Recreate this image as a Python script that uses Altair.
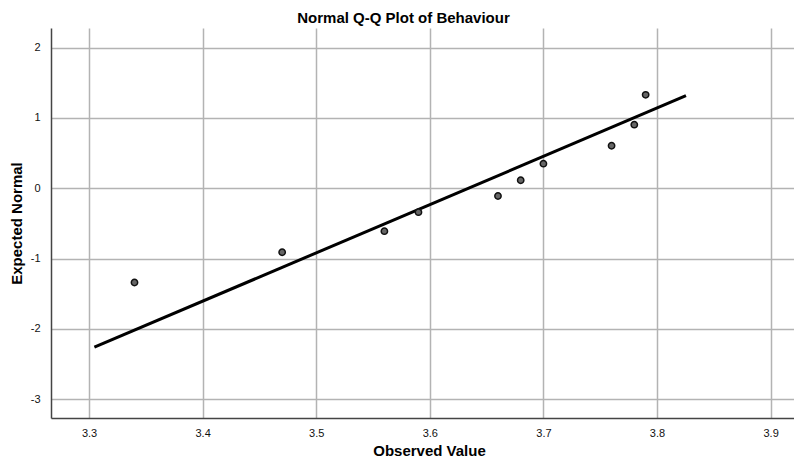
import altair as alt
import pandas as pd

observed = [3.34, 3.47, 3.56, 3.59, 3.66, 3.68, 3.70, 3.76, 3.78, 3.79]
expected = [-1.34, -0.91, -0.61, -0.34, -0.11, 0.115, 0.35, 0.605, 0.905, 1.33]

# Reference line endpoints
line_x = [3.3047, 3.8255]
line_y = [-2.26, 1.317]

x_ticks = [3.3, 3.4, 3.5, 3.6, 3.7, 3.8, 3.9]
y_ticks = [-3, -2, -1, 0, 1, 2]

pts = pd.DataFrame({"obs": observed, "exp": expected})
ln = pd.DataFrame({"obs": line_x, "exp": line_y})

FONT = "Liberation Sans"

x_scale = alt.Scale(domain=[3.2665, 3.9206], nice=False, zero=False)
y_scale = alt.Scale(domain=[-3.267, 2.28], nice=False, zero=False)

x_axis = alt.Axis(
    title="Observed Value", values=x_ticks, format=".1f",
    grid=True, gridColor="#b3b3b3", gridWidth=1.5,
    ticks=False, labelPadding=9, labelFontSize=11, labelColor="#111",
    labelFont=FONT, domainColor="#444", domainWidth=1.5,
    titleFont=FONT, titleFontSize=15, titleFontWeight="bold", titleColor="#000",
    titleX=378, titleY=37, titleBaseline="alphabetic",
)
y_axis = alt.Axis(
    title="Expected Normal", values=y_ticks, format="d",
    labelExpr="replace(datum.label, '\u2212', '-')",
    grid=True, gridColor="#b3b3b3", gridWidth=1.5,
    ticks=False, labelPadding=11, labelFontSize=11, labelColor="#111",
    labelFont=FONT, domainColor="#444", domainWidth=1.5,
    titleFont=FONT, titleFontSize=15, titleFontWeight="bold", titleColor="#000",
    titleX=-30, titleY=195, titleBaseline="alphabetic", titleAngle=-90,
)

line = alt.Chart(ln).mark_line(color="#000", strokeWidth=3).encode(
    x=alt.X("obs:Q", scale=x_scale, axis=x_axis),
    y=alt.Y("exp:Q", scale=y_scale, axis=y_axis),
)

points = alt.Chart(pts).mark_point(
    filled=True, shape="circle", size=40, fill="#666", stroke="#111",
    strokeWidth=1.5, opacity=1,
).encode(
    x=alt.X("obs:Q", scale=x_scale),
    y=alt.Y("exp:Q", scale=y_scale),
)

chart = alt.layer(line, points).properties(
    width=743, height=390,
    autosize=alt.AutoSizeParams(type="none"),
    padding={"left": 43, "top": 20, "right": 0, "bottom": 42},
    title=alt.TitleParams(
        "Normal Q-Q Plot of Behaviour", font=FONT, fontSize=15,
        fontWeight="bold", color="#000", anchor="middle", frame="group",
        baseline="alphabetic", offset=6, dx=-19, dy=16,
    ),
).configure_view(stroke=None)

chart.save("out.html", embed_options={"renderer": "svg", "actions": False})
